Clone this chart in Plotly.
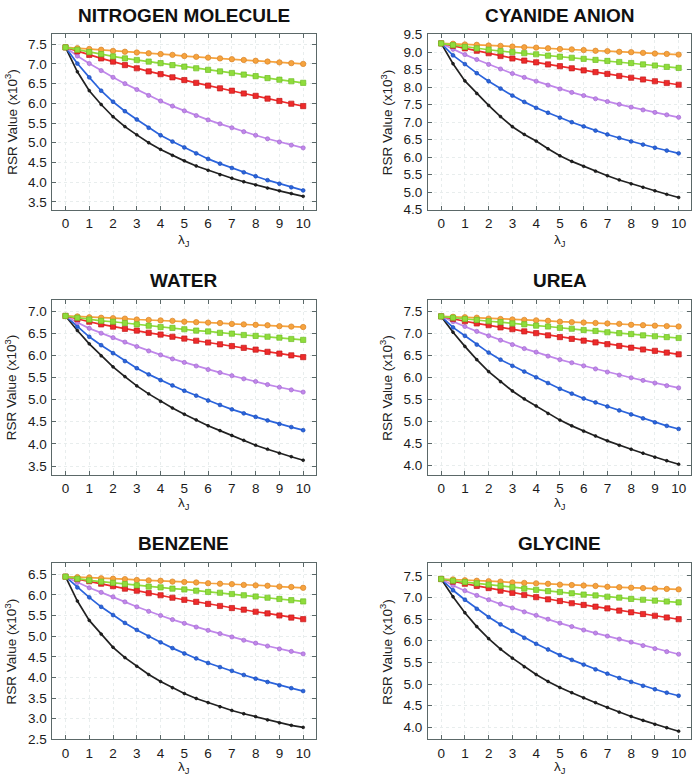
import plotly.graph_objects as go

# ---------------- data ----------------
lambda_j = [0, 0.5, 1, 1.5, 2, 2.5, 3, 3.5, 4, 4.5, 5, 5.5, 6, 6.5, 7, 7.5, 8, 8.5, 9, 9.5, 10]

panel_titles = ["NITROGEN MOLECULE", "CYANIDE ANION", "WATER", "UREA", "BENZENE", "GLYCINE"]
y_ranges = [[3.3, 7.76], [4.499, 9.52], [3.3, 7.26], [3.79, 7.76], [2.499, 6.76], [3.72, 7.79]]

series_colors = ["#222222", "#2b64dc", "#c087ea", "#ee2b2b", "#f6a33e", "#8fdc3c"]
series_edge = ["#111111", "#1d4fb8", "#a56bd0", "#c21a1a", "#d9842a", "#6fbf25"]
series_symbols = ["circle", "circle", "circle", "square", "circle", "square"]
series_sizes = [2.8, 3.8, 4.2, 5.2, 5.4, 5.2]

# order in each list: black, blue, purple, red, orange, green
nitrogen_black = [7.42, 6.80, 6.32, 5.97, 5.66, 5.41, 5.20, 5.00, 4.83, 4.68, 4.54, 4.41, 4.30, 4.19, 4.10, 4.01, 3.93, 3.85, 3.78, 3.71, 3.64]
nitrogen_blue = [7.42, 7.01, 6.66, 6.32, 6.04, 5.80, 5.59, 5.38, 5.19, 5.03, 4.88, 4.73, 4.59, 4.47, 4.36, 4.25, 4.15, 4.05, 3.96, 3.87, 3.79]
nitrogen_purple = [7.42, 7.20, 7.01, 6.83, 6.66, 6.50, 6.35, 6.20, 6.06, 5.93, 5.81, 5.69, 5.58, 5.48, 5.38, 5.28, 5.19, 5.10, 5.02, 4.94, 4.87]
nitrogen_red = [7.42, 7.32, 7.23, 7.14, 7.06, 6.97, 6.89, 6.81, 6.74, 6.66, 6.59, 6.52, 6.45, 6.38, 6.32, 6.25, 6.19, 6.12, 6.06, 5.99, 5.93]
nitrogen_orange = [7.42, 7.40, 7.38, 7.36, 7.33, 7.31, 7.29, 7.27, 7.25, 7.23, 7.20, 7.18, 7.16, 7.14, 7.12, 7.10, 7.08, 7.06, 7.04, 7.02, 7.00]
nitrogen_green = [7.42, 7.36, 7.30, 7.25, 7.19, 7.14, 7.10, 7.06, 7.02, 6.97, 6.93, 6.89, 6.85, 6.81, 6.77, 6.73, 6.69, 6.64, 6.60, 6.56, 6.52]

cyanide_black = [9.25, 8.67, 8.18, 7.82, 7.48, 7.16, 6.87, 6.65, 6.46, 6.24, 6.04, 5.88, 5.74, 5.60, 5.47, 5.35, 5.24, 5.14, 5.04, 4.94, 4.85]
cyanide_blue = [9.25, 8.91, 8.66, 8.40, 8.17, 7.96, 7.76, 7.58, 7.41, 7.27, 7.13, 7.00, 6.88, 6.76, 6.65, 6.55, 6.45, 6.36, 6.27, 6.19, 6.11]
cyanide_purple = [9.25, 9.08, 8.93, 8.79, 8.65, 8.52, 8.39, 8.28, 8.17, 8.06, 7.95, 7.85, 7.76, 7.67, 7.59, 7.51, 7.43, 7.35, 7.28, 7.21, 7.14]
cyanide_red = [9.25, 9.18, 9.11, 9.04, 8.97, 8.89, 8.82, 8.76, 8.71, 8.65, 8.60, 8.54, 8.48, 8.43, 8.38, 8.32, 8.27, 8.22, 8.17, 8.12, 8.07]
cyanide_orange = [9.25, 9.24, 9.22, 9.21, 9.19, 9.18, 9.16, 9.14, 9.13, 9.11, 9.09, 9.08, 9.06, 9.04, 9.03, 9.01, 9.00, 8.98, 8.96, 8.95, 8.93]
cyanide_green = [9.25, 9.20, 9.15, 9.11, 9.07, 9.03, 9.00, 8.97, 8.94, 8.90, 8.87, 8.84, 8.81, 8.78, 8.75, 8.72, 8.69, 8.65, 8.62, 8.58, 8.55]

water_black = [6.89, 6.56, 6.26, 5.99, 5.74, 5.52, 5.31, 5.13, 4.96, 4.81, 4.67, 4.54, 4.41, 4.30, 4.19, 4.08, 3.97, 3.88, 3.79, 3.71, 3.63]
water_blue = [6.89, 6.65, 6.42, 6.23, 6.05, 5.87, 5.71, 5.57, 5.44, 5.32, 5.20, 5.09, 4.98, 4.88, 4.78, 4.69, 4.61, 4.53, 4.45, 4.38, 4.31]
water_purple = [6.89, 6.74, 6.61, 6.50, 6.40, 6.30, 6.20, 6.10, 6.01, 5.92, 5.84, 5.76, 5.68, 5.61, 5.54, 5.47, 5.41, 5.34, 5.28, 5.22, 5.17]
water_red = [6.89, 6.82, 6.76, 6.70, 6.65, 6.60, 6.56, 6.51, 6.47, 6.42, 6.38, 6.33, 6.29, 6.25, 6.21, 6.17, 6.13, 6.08, 6.04, 6.00, 5.96]
water_orange = [6.89, 6.88, 6.86, 6.85, 6.84, 6.83, 6.81, 6.80, 6.79, 6.78, 6.76, 6.75, 6.74, 6.73, 6.71, 6.70, 6.69, 6.68, 6.66, 6.65, 6.64]
water_green = [6.89, 6.85, 6.81, 6.78, 6.76, 6.73, 6.70, 6.67, 6.64, 6.62, 6.59, 6.56, 6.54, 6.51, 6.49, 6.46, 6.44, 6.42, 6.40, 6.37, 6.35]

urea_black = [7.38, 7.02, 6.70, 6.40, 6.13, 5.90, 5.69, 5.51, 5.35, 5.18, 5.03, 4.90, 4.78, 4.67, 4.56, 4.46, 4.37, 4.28, 4.19, 4.11, 4.03]
urea_blue = [7.38, 7.13, 6.94, 6.74, 6.56, 6.40, 6.26, 6.13, 6.00, 5.87, 5.74, 5.63, 5.52, 5.43, 5.34, 5.25, 5.16, 5.07, 4.98, 4.90, 4.83]
urea_purple = [7.38, 7.26, 7.15, 7.04, 6.94, 6.84, 6.74, 6.65, 6.57, 6.48, 6.40, 6.33, 6.26, 6.19, 6.12, 6.05, 5.99, 5.93, 5.87, 5.81, 5.76]
urea_red = [7.38, 7.32, 7.27, 7.22, 7.18, 7.13, 7.09, 7.04, 7.00, 6.95, 6.91, 6.87, 6.83, 6.79, 6.75, 6.71, 6.67, 6.63, 6.60, 6.56, 6.52]
urea_orange = [7.38, 7.37, 7.36, 7.35, 7.33, 7.32, 7.31, 7.30, 7.29, 7.28, 7.26, 7.25, 7.24, 7.23, 7.22, 7.21, 7.19, 7.18, 7.17, 7.16, 7.15]
urea_green = [7.38, 7.35, 7.32, 7.30, 7.27, 7.25, 7.22, 7.20, 7.17, 7.15, 7.12, 7.10, 7.07, 7.05, 7.02, 7.00, 6.98, 6.95, 6.93, 6.91, 6.89]

benzene_black = [6.44, 5.85, 5.38, 5.05, 4.73, 4.48, 4.27, 4.07, 3.90, 3.75, 3.61, 3.49, 3.39, 3.29, 3.20, 3.12, 3.05, 2.97, 2.90, 2.84, 2.79]
benzene_blue = [6.44, 6.18, 5.94, 5.71, 5.51, 5.32, 5.15, 4.99, 4.85, 4.71, 4.58, 4.46, 4.35, 4.25, 4.16, 4.06, 3.97, 3.89, 3.81, 3.74, 3.67]
benzene_purple = [6.44, 6.30, 6.17, 6.06, 5.95, 5.83, 5.71, 5.60, 5.50, 5.40, 5.31, 5.22, 5.14, 5.06, 4.98, 4.90, 4.83, 4.76, 4.69, 4.63, 4.57]
benzene_red = [6.44, 6.38, 6.33, 6.27, 6.21, 6.15, 6.10, 6.04, 5.99, 5.93, 5.88, 5.83, 5.78, 5.73, 5.68, 5.64, 5.59, 5.55, 5.50, 5.45, 5.41]
benzene_orange = [6.44, 6.43, 6.42, 6.40, 6.39, 6.38, 6.36, 6.35, 6.34, 6.32, 6.31, 6.30, 6.28, 6.27, 6.26, 6.24, 6.23, 6.22, 6.20, 6.19, 6.17]
benzene_green = [6.44, 6.39, 6.35, 6.32, 6.29, 6.26, 6.23, 6.20, 6.18, 6.15, 6.13, 6.10, 6.07, 6.05, 6.02, 5.99, 5.96, 5.93, 5.90, 5.87, 5.84]

glycine_black = [7.43, 7.02, 6.65, 6.33, 6.05, 5.81, 5.60, 5.40, 5.22, 5.06, 4.92, 4.80, 4.68, 4.57, 4.46, 4.35, 4.25, 4.16, 4.07, 3.99, 3.91]
glycine_blue = [7.43, 7.17, 6.95, 6.74, 6.55, 6.38, 6.23, 6.07, 5.93, 5.80, 5.67, 5.56, 5.45, 5.34, 5.24, 5.14, 5.05, 4.96, 4.88, 4.80, 4.73]
glycine_purple = [7.43, 7.28, 7.16, 7.05, 6.95, 6.85, 6.76, 6.67, 6.59, 6.50, 6.41, 6.33, 6.25, 6.18, 6.11, 6.04, 5.97, 5.89, 5.82, 5.75, 5.69]
glycine_red = [7.43, 7.37, 7.32, 7.27, 7.22, 7.16, 7.11, 7.06, 7.01, 6.96, 6.92, 6.87, 6.83, 6.79, 6.75, 6.70, 6.66, 6.62, 6.58, 6.54, 6.50]
glycine_orange = [7.43, 7.42, 7.40, 7.39, 7.38, 7.37, 7.35, 7.34, 7.33, 7.32, 7.30, 7.29, 7.28, 7.27, 7.25, 7.24, 7.23, 7.22, 7.21, 7.20, 7.19]
glycine_green = [7.43, 7.39, 7.36, 7.33, 7.30, 7.27, 7.24, 7.21, 7.18, 7.15, 7.13, 7.10, 7.07, 7.05, 7.02, 7.00, 6.97, 6.95, 6.93, 6.91, 6.89]

x_ticks = [0, 1, 2, 3, 4, 5, 6, 7, 8, 9, 10]
y_title_text = "RSR Value (x10<sup>3</sup>)"
x_title_text = "λ<sub>J</sub>"

panel_series = [
    [nitrogen_black, nitrogen_blue, nitrogen_purple, nitrogen_red, nitrogen_orange, nitrogen_green],
    [cyanide_black, cyanide_blue, cyanide_purple, cyanide_red, cyanide_orange, cyanide_green],
    [water_black, water_blue, water_purple, water_red, water_orange, water_green],
    [urea_black, urea_blue, urea_purple, urea_red, urea_orange, urea_green],
    [benzene_black, benzene_blue, benzene_purple, benzene_red, benzene_orange, benzene_green],
    [glycine_black, glycine_blue, glycine_purple, glycine_red, glycine_orange, glycine_green],
]

# ---------------- layout geometry (pixels) ----------------
W, H = 692, 784
col_px = [(52.5, 316.0), (428.7, 692.0)]
row_px = [(27.5, 206.7), (298.3, 477.0), (567.3, 746.7)]
title_y_px = [9.0, 279.0, 547.0]
xtitle_y_px = [238.5, 506.5, 775.0]
ytitle_x_px = [11.0, 387.0]

FONT = "Liberation Sans, Arial, Helvetica, sans-serif"
AXIS_COLOR = "#5b6868"
GRID_COLOR = "#e8eded"

fig = go.Figure()
annotations = []
layout_axes = {}

for i, title in enumerate(panel_titles):
    r, c = divmod(i, 2)
    k = i + 1
    xa = "x" if k == 1 else f"x{k}"
    ya = "y" if k == 1 else f"y{k}"
    for s, ys in enumerate(panel_series[i]):
        fig.add_trace(go.Scatter(
            x=lambda_j, y=ys, xaxis=xa, yaxis=ya, mode="lines+markers",
            line=dict(color=series_colors[s], width=1.7),
            marker=dict(symbol=series_symbols[s], size=series_sizes[s], color=series_colors[s],
                        line=dict(color=series_edge[s], width=0.7)),
            showlegend=False, hoverinfo="skip",
        ))
    x0, x1 = col_px[c]
    y0, y1 = row_px[r]
    common = dict(showline=True, linecolor=AXIS_COLOR, linewidth=1, mirror="ticks",
                  ticks="inside", ticklen=4, tickcolor=AXIS_COLOR, tickwidth=1,
                  showgrid=True, gridcolor=GRID_COLOR, griddash="dot", gridwidth=1,
                  zeroline=False, tickfont=dict(family=FONT, size=13.5, color="#1a1a1a"))
    layout_axes["xaxis" if k == 1 else f"xaxis{k}"] = dict(
        domain=[x0 / W, x1 / W], anchor=ya, range=[-0.55, 10.52],
        tickmode="array", tickvals=x_ticks, ticklabelstandoff=1, **common)
    layout_axes["yaxis" if k == 1 else f"yaxis{k}"] = dict(
        domain=[1 - y1 / H, 1 - y0 / H], anchor=xa, range=y_ranges[i],
        dtick=0.5, tick0=0, tickformat=".1f", ticklabelstandoff=2, **common)
    cx = (x0 + x1) / 2
    annotations.append(dict(text=f"<b>{title}</b>", x=cx / W, y=1 - title_y_px[r] / H,
                            xref="paper", yref="paper", showarrow=False,
                            xanchor="center", yanchor="middle",
                            font=dict(family=FONT, size=19, color="#111111")))
    annotations.append(dict(text=x_title_text, x=cx / W, y=1 - xtitle_y_px[r] / H,
                            xref="paper", yref="paper", showarrow=False,
                            xanchor="center", yanchor="middle",
                            font=dict(family=FONT, size=13.5, color="#222222")))
    annotations.append(dict(text=y_title_text, x=ytitle_x_px[c] / W, y=1 - (y0 + y1) / 2 / H,
                            xref="paper", yref="paper", showarrow=False, textangle=-90,
                            xanchor="center", yanchor="middle",
                            font=dict(family=FONT, size=13.5, color="#222222")))

fig.update_layout(
    width=W, height=H, margin=dict(l=0, r=0, t=0, b=0),
    paper_bgcolor="white", plot_bgcolor="white",
    annotations=annotations, **layout_axes,
)

fig.write_html("out.html", config={"displayModeBar": False},
               post_script="document.body.style.margin='0';document.body.style.overflow='hidden';")
